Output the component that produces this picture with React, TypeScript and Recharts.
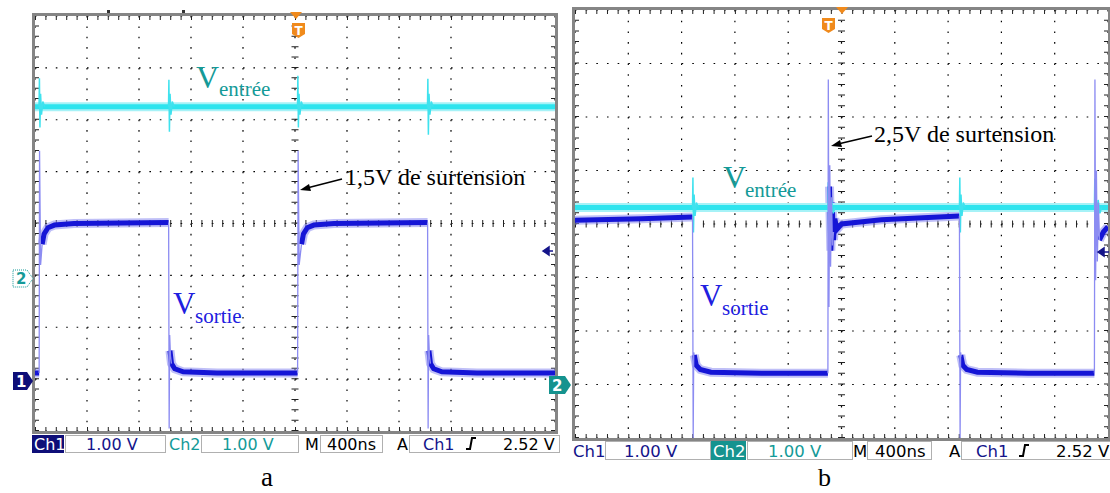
import { LineChart, Line, XAxis, YAxis, CartesianGrid, ReferenceLine } from 'recharts';

type Pt = { t: number; v: number | null };

// time in ns (trigger at 0), 400 ns/div ; y in volts, 1 V/div
const T_TICKS = [-2000, -1600, -1200, -800, -400, 0, 400, 800, 1200, 1600, 2000];
const DIV_TICKS = [0, 1, 2, 3, 4, 5, 6, 7, 8];

// ---- capture a ----
const outBandA: Pt[] = [
  { t: -2000, v: 0.12 }, { t: -1968, v: 0.12 }, { t: -1967, v: null },
  { t: -1945, v: 2.6 }, { t: -1930, v: 2.8 }, { t: -1900, v: 2.92 }, { t: -1850, v: 2.97 }, { t: -1700, v: 3.0 }, { t: -972, v: 3.02 }, { t: -971, v: null },
  { t: -962, v: 0.55 }, { t: -950, v: 0.3 }, { t: -925, v: 0.2 }, { t: -860, v: 0.14 }, { t: -600, v: 0.12 }, { t: 20, v: 0.12 }, { t: 21, v: null },
  { t: 50, v: 2.6 }, { t: 65, v: 2.8 }, { t: 95, v: 2.92 }, { t: 145, v: 2.97 }, { t: 300, v: 3.0 }, { t: 1020, v: 3.02 }, { t: 1021, v: null },
  { t: 1030, v: 0.55 }, { t: 1042, v: 0.3 }, { t: 1067, v: 0.2 }, { t: 1130, v: 0.14 }, { t: 1400, v: 0.12 }, { t: 2000, v: 0.12 },
];
const outEdgeA: Pt[] = [
  { t: -1968, v: 0.12 }, { t: -1965, v: 4.4 }, { t: -1957, v: 2.2 }, { t: -1945, v: 2.6 }, { t: -1944, v: null },
  { t: -972, v: 3.02 }, { t: -968, v: -0.95 }, { t: -964, v: 0.85 }, { t: -958, v: 0.45 }, { t: -950, v: 0.3 }, { t: -949, v: null },
  { t: 20, v: 0.12 }, { t: 24, v: 4.4 }, { t: 32, v: 2.2 }, { t: 50, v: 2.6 }, { t: 51, v: null },
  { t: 1020, v: 3.02 }, { t: 1024, v: -0.95 }, { t: 1028, v: 0.85 }, { t: 1034, v: 0.45 }, { t: 1042, v: 0.3 },
];
const inBandA: Pt[] = [{ t: -2000, v: 3.25 }, { t: 2000, v: 3.25 }];
const inSpikeA: Pt[] = [
  { t: -1969, v: 3.25 }, { t: -1966, v: 3.8 }, { t: -1962, v: 2.85 }, { t: -1957, v: 3.5 }, { t: -1950, v: 3.1 }, { t: -1940, v: 3.35 }, { t: -1925, v: 3.25 }, { t: -1924, v: null },
  { t: -973, v: 3.25 }, { t: -970, v: 3.77 }, { t: -966, v: 2.77 }, { t: -961, v: 3.5 }, { t: -954, v: 3.1 }, { t: -944, v: 3.35 }, { t: -929, v: 3.25 }, { t: -928, v: null },
  { t: 19, v: 3.25 }, { t: 22, v: 3.85 }, { t: 26, v: 2.85 }, { t: 31, v: 3.5 }, { t: 38, v: 3.1 }, { t: 48, v: 3.35 }, { t: 63, v: 3.25 }, { t: 64, v: null },
  { t: 1019, v: 3.25 }, { t: 1022, v: 3.79 }, { t: 1026, v: 2.71 }, { t: 1031, v: 3.5 }, { t: 1038, v: 3.1 }, { t: 1048, v: 3.35 }, { t: 1063, v: 3.25 },
];

// ---- capture b ----
const outBandB: Pt[] = [
  { t: -2000, v: 2.97 }, { t: -1500, v: 3.0 }, { t: -1118, v: 3.03 }, { t: -1117, v: null },
  { t: -1105, v: 0.45 }, { t: -1090, v: 0.26 }, { t: -1060, v: 0.18 }, { t: -980, v: 0.13 }, { t: -600, v: 0.11 }, { t: -102, v: 0.11 }, { t: -101, v: null },
  { t: -90, v: 3.6 }, { t: -80, v: 2.4 }, { t: -70, v: 3.3 }, { t: -60, v: 2.6 }, { t: -50, v: 3.0 }, { t: -35, v: 2.8 }, { t: 0, v: 2.9 }, { t: 300, v: 2.98 }, { t: 885, v: 3.05 }, { t: 886, v: null },
  { t: 895, v: 0.45 }, { t: 910, v: 0.26 }, { t: 940, v: 0.18 }, { t: 1020, v: 0.13 }, { t: 1400, v: 0.11 }, { t: 1898, v: 0.11 }, { t: 1899, v: null },
  { t: 1935, v: 2.6 }, { t: 1965, v: 2.75 }, { t: 2000, v: 2.85 },
];
const outEdgeB: Pt[] = [
  { t: -1118, v: 3.03 }, { t: -1113, v: -1.1 }, { t: -1109, v: 0.5 }, { t: -1105, v: 0.45 }, { t: -1104, v: null },
  { t: -102, v: 0.11 }, { t: -99, v: 5.6 }, { t: -94, v: 1.35 }, { t: -88, v: 4.0 }, { t: -82, v: 2.1 }, { t: -75, v: 3.4 }, { t: -68, v: 2.5 }, { t: -60, v: 2.75 }, { t: -59, v: null },
  { t: 885, v: 3.05 }, { t: 890, v: -1.1 }, { t: 894, v: 0.5 }, { t: 898, v: 0.42 }, { t: 899, v: null },
  { t: 1898, v: 0.11 }, { t: 1902, v: 5.6 }, { t: 1907, v: 1.85 }, { t: 1913, v: 3.9 }, { t: 1920, v: 2.2 }, { t: 1928, v: 3.3 }, { t: 1936, v: 2.6 },
];
const inBandB: Pt[] = [{ t: -2000, v: 3.31 }, { t: 2000, v: 3.31 }];
const inSpikeB: Pt[] = [
  { t: -1118, v: 3.31 }, { t: -1115, v: 3.87 }, { t: -1111, v: 2.84 }, { t: -1106, v: 3.55 }, { t: -1099, v: 3.15 }, { t: -1089, v: 3.4 }, { t: -1074, v: 3.31 }, { t: -1073, v: null },
  { t: -103, v: 3.31 }, { t: -100, v: 3.78 }, { t: -96, v: 2.78 }, { t: -91, v: 3.6 }, { t: -84, v: 3.05 }, { t: -75, v: 3.45 }, { t: -62, v: 3.2 }, { t: -48, v: 3.31 }, { t: -47, v: null },
  { t: 885, v: 3.31 }, { t: 888, v: 3.87 }, { t: 892, v: 2.84 }, { t: 897, v: 3.55 }, { t: 904, v: 3.15 }, { t: 914, v: 3.4 }, { t: 929, v: 3.31 }, { t: 930, v: null },
  { t: 1898, v: 3.31 }, { t: 1901, v: 3.85 }, { t: 1905, v: 2.69 }, { t: 1910, v: 3.6 }, { t: 1917, v: 3.05 }, { t: 1926, v: 3.45 }, { t: 1939, v: 3.2 }, { t: 1952, v: 3.31 },
];

const NAVY = '#14148a';
const NAVY_FILL = '#0e0e78';
const TEAL = '#149a98';
const TEAL_FILL = '#15938f';
const ORANGE = '#f08a1c';
const SERIF = '"Liberation Serif", "Times New Roman", serif';
const MONO = '"DejaVu Sans", sans-serif';

interface ScopeProps {
  left: number; top: number; width: number; height: number;
  ch1Off: number; ch2Off: number;
  outBand: Pt[]; outEdge: Pt[]; inBand: Pt[]; inSpike: Pt[];
}

function Scope({ left, top, width, height, ch1Off, ch2Off, outBand, outEdge, inBand, inSpike }: ScopeProps) {
  const mx = width / 50;
  const my = height / 40;
  const v1 = (d: Pt) => (d.v == null ? null : d.v + ch1Off);
  const v2 = (d: Pt) => (d.v == null ? null : d.v + ch2Off);
  const tickX = `1 ${mx - 1}`;
  const tickY = `1 ${my - 1}`;
  return (
    <div style={{ position: 'absolute', left, top, width, height }}>
      <LineChart width={width} height={height} margin={{ top: 0, right: 0, bottom: 0, left: 0 }}>
        <XAxis type="number" dataKey="t" domain={[-2000, 2000]} ticks={T_TICKS} allowDataOverflow hide />
        <YAxis type="number" domain={[0, 8]} ticks={DIV_TICKS} allowDataOverflow hide />
        <CartesianGrid horizontal={false} stroke="#000" strokeWidth={1.2} strokeDasharray={`1.6 ${my - 1.6}`} />
        <CartesianGrid vertical={false} stroke="#000" strokeWidth={1.2} strokeDasharray={`1.6 ${mx - 1.6}`} />
        <ReferenceLine x={0} stroke="#222" strokeWidth={7} strokeDasharray={tickY} />
        <ReferenceLine y={4} stroke="#222" strokeWidth={7} strokeDasharray={tickX} />
        <ReferenceLine x={-2000} stroke="#222" strokeWidth={8} strokeDasharray={tickY} />
        <ReferenceLine x={2000} stroke="#222" strokeWidth={8} strokeDasharray={tickY} />
        <ReferenceLine y={0} stroke="#222" strokeWidth={8} strokeDasharray={tickX} />
        <ReferenceLine y={8} stroke="#222" strokeWidth={8} strokeDasharray={tickX} />
        <Line data={outBand} dataKey={v1} stroke="#8a8af0" strokeOpacity={0.55} strokeWidth={9} dot={false} isAnimationActive={false} />
        <Line data={outBand} dataKey={v1} stroke="#1515d6" strokeWidth={5} dot={false} isAnimationActive={false} />
        <Line data={inBand} dataKey={v2} stroke="#a6f2f7" strokeWidth={9} dot={false} isAnimationActive={false} />
        <Line data={inBand} dataKey={v2} stroke="#2ee4ee" strokeWidth={5} dot={false} isAnimationActive={false} />
        <Line data={inSpike} dataKey={v2} stroke="#3fe2ee" strokeWidth={1.5} dot={false} isAnimationActive={false} />
        <Line data={outEdge} dataKey={v1} stroke="#8c8cf2" strokeWidth={1.3} dot={false} isAnimationActive={false} />
      </LineChart>
    </div>
  );
}

function Edge({ x, y }: { x: number; y: number }) {
  return <path d={`M${x} ${y} h4 l2 -11 h4`} fill="none" stroke="#000" strokeWidth={2} />;
}

function Marker({ x, y, w, h, fill, stroke, label, color }: { x: number; y: number; w: number; h: number; fill: string; stroke?: string; label: string; color: string }) {
  const p = `${x},${y} ${x + w - 6},${y} ${x + w},${y + h / 2} ${x + w - 6},${y + h} ${x},${y + h}`;
  return (
    <g>
      <polygon points={p} fill={fill} stroke={stroke || 'none'} strokeDasharray={stroke ? '1 1' : undefined} />
      <text x={x + 3} y={y + h - 3} fontFamily={MONO} fontSize={15} fontWeight="bold" fill={color}>{label}</text>
    </g>
  );
}

function Trig({ x, y }: { x: number; y: number }) {
  return (
    <g>
      <path d={`M${x} ${y} h13 v11 l-6.5 4 l-6.5 -4 z`} fill={ORANGE} />
      <text x={x + 2.5} y={y + 12} fontFamily={MONO} fontSize={12} fontWeight="bold" fill="#fff">T</text>
    </g>
  );
}

export default function App() {
  return (
    <div style={{ position: 'absolute', left: 0, top: 0, width: 1110, height: 493, background: '#fff', overflow: 'hidden' }}>
      <Scope left={35} top={16} width={520} height={415} ch1Off={1} ch2Off={3}
        outBand={outBandA} outEdge={outEdgeA} inBand={inBandA} inSpike={inSpikeA} />
      <Scope left={575} top={10} width={533} height={428} ch1Off={1.1} ch2Off={1}
        outBand={outBandB} outEdge={outEdgeB} inBand={inBandB} inSpike={inSpikeB} />
      <svg width={1110} height={493} style={{ position: 'absolute', left: 0, top: 0, pointerEvents: 'none' }}>
        {/* frames */}
        <rect x={33.5} y={14.5} width={523} height={418} fill="none" stroke="#858585" strokeWidth={3} />
        <rect x={573.5} y={8.5} width={536} height={431} fill="none" stroke="#858585" strokeWidth={3} />
        <rect x={107} y={10} width={3} height={3} fill="#333" />
        <rect x={182} y={10} width={3} height={3} fill="#333" />

        {/* trigger markers */}
        <path d="M290 12 h12 l-6 7 z" fill={ORANGE} />
        <Trig x={292} y={23} />
        <path d="M836 7 h12 l-6 7 z" fill={ORANGE} />
        <Trig x={822} y={18} />

        {/* channel markers */}
        <Marker x={13} y={270} w={20} h={17} fill="#fff" stroke={TEAL} label="2" color={TEAL} />
        <Marker x={13} y={372} w={20} h={18} fill={NAVY_FILL} label="1" color="#fff" />
        <Marker x={549} y={376} w={22} h={18} fill={TEAL_FILL} label="2" color="#fff" />
        <path d="M543 251 l6 -4 v8 z M548 251 h5" fill={NAVY} stroke={NAVY} strokeWidth={1.5} />
        <path d="M1098 252 l6 -4 v8 z M1103 252 h6" fill={NAVY} stroke={NAVY} strokeWidth={1.5} />

        {/* annotations a */}
        <text x={196} y={88} fontFamily={SERIF} fontSize={32} fill={TEAL}>V</text>
        <text x={219} y={96} fontFamily={SERIF} fontSize={21} fill={TEAL}>entrée</text>
        <text x={173} y={314} fontFamily={SERIF} fontSize={31} fill="#2020e0">V</text>
        <text x={195} y={323} fontFamily={SERIF} fontSize={21} fill="#2020e0">sortie</text>
        <text x={345} y={185} fontFamily={SERIF} fontSize={24} fill="#000">1,5V de surtension</text>
        <line x1={342} y1={179} x2={307} y2={188} stroke="#000" strokeWidth={1.5} />
        <path d="M300 190 l9 -6 l2 7 z" fill="#000" />

        {/* annotations b */}
        <text x={723} y={188} fontFamily={SERIF} fontSize={32} fill={TEAL}>V</text>
        <text x={745} y={197} fontFamily={SERIF} fontSize={21} fill={TEAL}>entrée</text>
        <text x={700} y={306} fontFamily={SERIF} fontSize={31} fill="#2020e0">V</text>
        <text x={722} y={315} fontFamily={SERIF} fontSize={21} fill="#2020e0">sortie</text>
        <text x={874} y={142} fontFamily={SERIF} fontSize={24} fill="#000">2,5V de surtension</text>
        <line x1={872} y1={136} x2={838} y2={144} stroke="#000" strokeWidth={1.5} />
        <path d="M831 146 l9 -6 l2 7 z" fill="#000" />

        {/* status bar a */}
        <g fontFamily={MONO} fontSize={16}>
          <rect x={32} y={435} width={32} height={18} fill={NAVY_FILL} />
          <text x={34} y={450} fill="#fff">Ch1</text>
          <rect x={65.5} y={435.5} width={100} height={17} fill="#fff" stroke="#b0b0b0" />
          <text x={86} y={450} fill={NAVY}>1.00 V</text>
          <text x={169} y={450} fill={TEAL}>Ch2</text>
          <rect x={201.5} y={435.5} width={97} height={17} fill="#fff" stroke="#b0b0b0" />
          <text x={222} y={450} fill={TEAL}>1.00 V</text>
          <text x={305} y={450} fill="#000">M</text>
          <rect x={320.5} y={435.5} width={62} height={17} fill="#fff" stroke="#b0b0b0" />
          <text x={327} y={450} fill="#000">400ns</text>
          <text x={397} y={450} fill="#000">A</text>
          <rect x={409.5} y={435.5} width={150} height={17} fill="#fff" stroke="#b0b0b0" />
          <text x={423} y={450} fill={NAVY}>Ch1</text>
          <Edge x={466} y={449} />
          <text x={503} y={450} fill="#000">2.52 V</text>
        </g>

        {/* status bar b */}
        <g fontFamily={MONO} fontSize={16.5}>
          <text x={573} y={457} fill={NAVY}>Ch1</text>
          <rect x={605.5} y={441.5} width={105} height={18} fill="#fff" stroke="#b0b0b0" />
          <text x={624} y={457} fill={NAVY}>1.00 V</text>
          <rect x={711} y={441} width={35} height={19} fill={TEAL_FILL} />
          <text x={713} y={457} fill="#fff">Ch2</text>
          <rect x={747.5} y={441.5} width={105} height={18} fill="#fff" stroke="#b0b0b0" />
          <text x={768} y={457} fill={TEAL}>1.00 V</text>
          <text x={853} y={457} fill="#000">M</text>
          <rect x={867.5} y={441.5} width={64} height={18} fill="#fff" stroke="#b0b0b0" />
          <text x={875} y={457} fill="#000">400ns</text>
          <text x={949} y={457} fill="#000">A</text>
          <rect x={961.5} y={441.5} width={152} height={18} fill="#fff" stroke="#b0b0b0" />
          <text x={976} y={457} fill={NAVY}>Ch1</text>
          <Edge x={1019} y={456} />
          <text x={1056} y={457} fill="#000">2.52 V</text>
        </g>

        {/* captions */}
        <text x={261} y={486} fontFamily={SERIF} fontSize={27} fill="#000">a</text>
        <text x={818} y={486} fontFamily={SERIF} fontSize={26} fill="#000">b</text>
      </svg>
    </div>
  );
}
